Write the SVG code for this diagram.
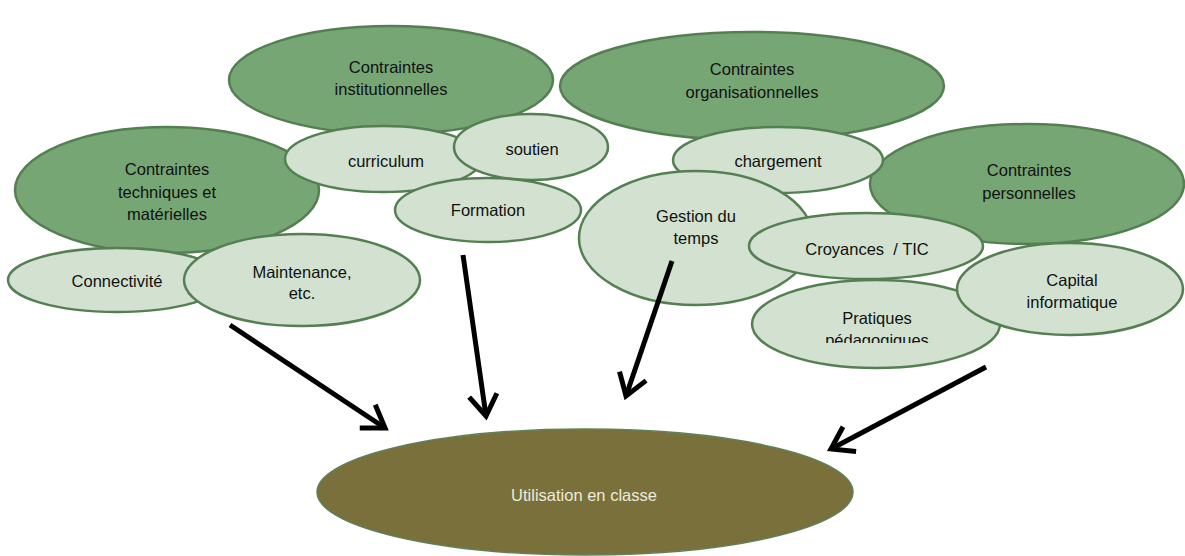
<svg xmlns="http://www.w3.org/2000/svg" width="1185" height="556" viewBox="0 0 1185 556">
<style>
.main{fill:#77A675;stroke:#557F53;stroke-width:2.5}
.sub{fill:#D2E1D0;stroke:#557F53;stroke-width:2.5}
.out{fill:#7A703B;stroke:#5E8157;stroke-width:1.5}
text{font-family:"Liberation Sans",Arial,sans-serif;font-size:16.5px;text-anchor:middle;fill:#111}
.light{fill:#ECEBDD}
.arrow{stroke:#000;stroke-width:5;fill:none}
</style>
<defs>
<marker id="head" markerUnits="userSpaceOnUse" markerWidth="40" markerHeight="40" viewBox="-30 -20 40 40" refX="0" refY="0" orient="auto">
<path d="M-21,-14 L0,0 L-21,14" fill="none" stroke="#000" stroke-width="5" stroke-linejoin="miter"/>
</marker>
<clipPath id="clipPrat"><rect x="740" y="270" width="280" height="73"/></clipPath>
</defs>

<g id="n-institutionnelles"><ellipse class="main" cx="391" cy="80" rx="162" ry="54"/><text x="391" y="73">Contraintes</text><text x="391" y="95">institutionnelles</text></g>
<g id="n-organisationnelles"><ellipse class="main" cx="752" cy="86" rx="192" ry="54"/><text x="752" y="75">Contraintes</text><text x="752" y="98">organisationnelles</text></g>
<g id="n-techniques"><ellipse class="main" cx="167" cy="190" rx="152" ry="63"/><text x="167" y="175">Contraintes</text><text x="167" y="198">techniques et</text><text x="167" y="220">matérielles</text></g>
<g id="n-personnelles"><ellipse class="main" cx="1027" cy="184" rx="157" ry="60"/><text x="1029" y="176">Contraintes</text><text x="1029" y="199">personnelles</text></g>

<g id="n-connectivite"><ellipse class="sub" cx="117" cy="280" rx="109" ry="32"/><text x="117" y="287">Connectivité</text></g>
<g id="n-maintenance"><ellipse class="sub" cx="302" cy="280" rx="118" ry="46"/><text x="302" y="278">Maintenance,</text><text x="302" y="299">etc.</text></g>
<g id="n-curriculum"><ellipse class="sub" cx="383" cy="159" rx="98" ry="33"/><text x="386" y="167">curriculum</text></g>
<g id="n-soutien"><ellipse class="sub" cx="531" cy="147" rx="77" ry="33"/><text x="532" y="155">soutien</text></g>
<g id="n-formation"><ellipse class="sub" cx="488" cy="210" rx="93" ry="32"/><text x="488" y="216">Formation</text></g>
<g id="n-chargement"><ellipse class="sub" cx="778" cy="160" rx="105" ry="33"/><text x="778" y="167">chargement</text></g>
<g id="n-gestion"><ellipse class="sub" cx="696" cy="238" rx="117" ry="67"/><text x="696" y="222">Gestion du</text><text x="696" y="244">temps</text></g>
<g id="n-croyances"><ellipse class="sub" cx="866" cy="246" rx="117" ry="33"/><text x="867" y="255" xml:space="preserve">Croyances  / TIC</text></g>
<g id="n-pratiques"><ellipse class="sub" cx="876" cy="324" rx="124" ry="44"/><g clip-path="url(#clipPrat)"><text x="877" y="324">Pratiques</text><text x="877" y="346">pédagogiques</text></g></g>
<g id="n-capital"><ellipse class="sub" cx="1070" cy="289" rx="113" ry="46"/><text x="1072" y="286">Capital</text><text x="1072" y="308">informatique</text></g>

<g id="n-utilisation"><ellipse class="out" cx="585" cy="492" rx="268" ry="63"/><text class="light" x="584" y="501">Utilisation en classe</text></g>

<g id="connectors">
<line class="arrow" x1="230" y1="325" x2="385" y2="428" marker-end="url(#head)"/>
<line class="arrow" x1="463" y1="255" x2="486" y2="416" marker-end="url(#head)"/>
<line class="arrow" x1="672" y1="261" x2="626" y2="396" marker-end="url(#head)"/>
<line class="arrow" x1="986" y1="367" x2="831" y2="449" marker-end="url(#head)"/>
</g>
</svg>
